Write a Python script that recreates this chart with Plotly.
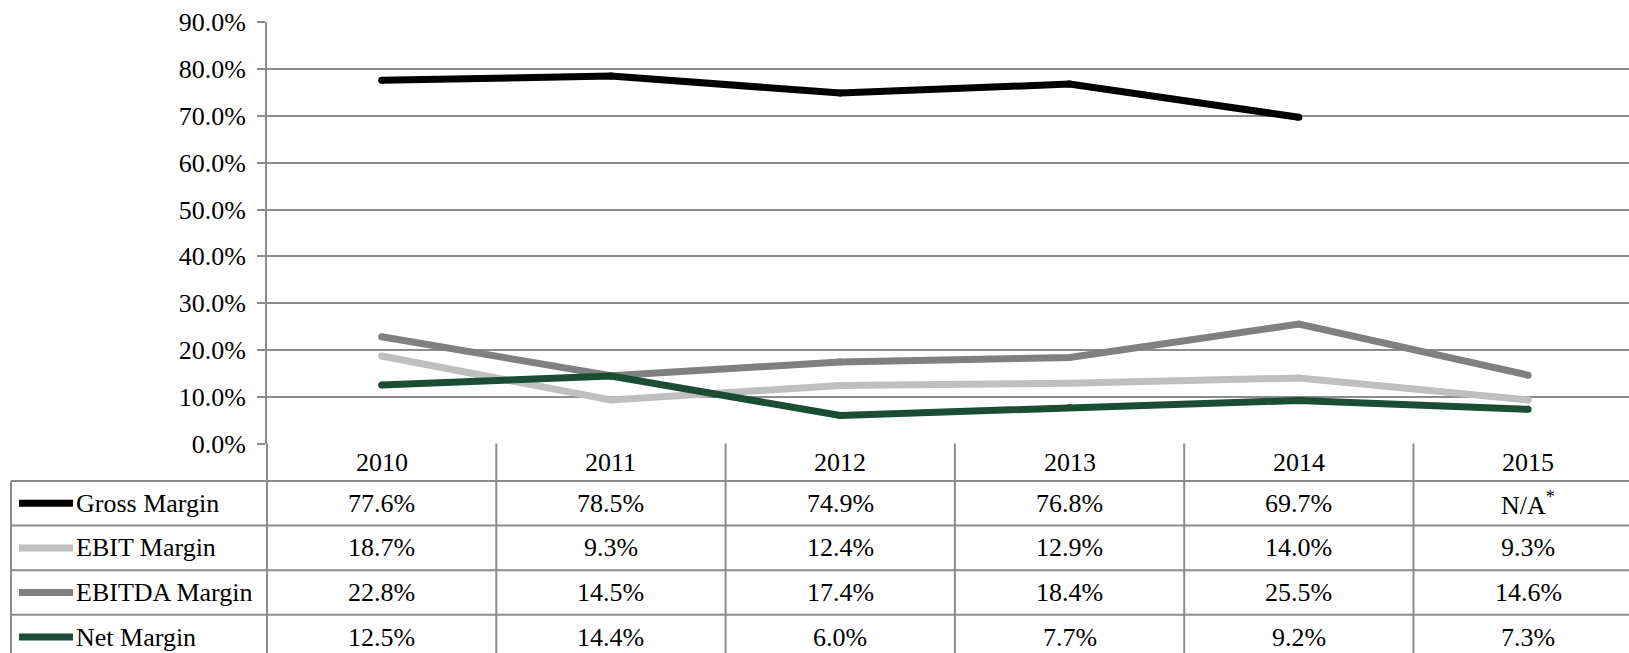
import plotly.graph_objects as go

# Data
years = ["2010", "2011", "2012", "2013", "2014", "2015"]
series_names = ["Gross Margin", "EBIT Margin", "EBITDA Margin", "Net Margin"]
gross_margin = [77.6, 78.5, 74.9, 76.8, 69.7, None]
ebit_margin = [18.7, 9.3, 12.4, 12.9, 14.0, 9.3]
ebitda_margin = [22.8, 14.5, 17.4, 18.4, 25.5, 14.6]
net_margin = [12.5, 14.4, 6.0, 7.7, 9.2, 7.3]
y_ticks = [0, 10, 20, 30, 40, 50, 60, 70, 80, 90]
y_tick_labels = [f"{v:.1f}%" for v in y_ticks]

series_values = [gross_margin, ebit_margin, ebitda_margin, net_margin]
series_colors = ["#000000", "#bfbfbf", "#808080", "#1b4d36"]

# Figure geometry (pixels)
W, H = 1629, 653
PLOT_LEFT = 267
PLOT_TOP = 22.3
PLOT_BOTTOM = 443.5
TABLE_LEFT = 11
HEADER_BOTTOM = 481
ROW_H = 44.6
GRID = "#8c8c8c"
FONT = "Liberation Serif"
FS = 26
COL_W = 229.3


def px(x):
    return x / W


def py(y):
    return 1 - y / H


x_right = -0.5 + (W - PLOT_LEFT) / COL_W

fig = go.Figure()

for name, vals, col in zip(series_names, series_values, series_colors):
    fig.add_trace(go.Scatter(
        x=list(range(len(years))), y=vals, name=name, mode="lines+markers",
        line=dict(color=col, width=7),
        marker=dict(color=col, size=7, line=dict(width=0)),
        connectgaps=False, showlegend=False, hoverinfo="skip",
    ))

shapes = []
annotations = []

# Table grid lines
row_tops = [HEADER_BOTTOM + i * ROW_H for i in range(len(series_names) + 1)]
for y in row_tops[:-1]:
    shapes.append(dict(type="line", xref="paper", yref="paper",
                       x0=px(TABLE_LEFT), x1=1, y0=py(y), y1=py(y),
                       line=dict(color=GRID, width=2)))
# left border of the table and the axis line continued down
shapes.append(dict(type="line", xref="paper", yref="paper",
                   x0=px(TABLE_LEFT), x1=px(TABLE_LEFT), y0=py(HEADER_BOTTOM), y1=0,
                   line=dict(color=GRID, width=2)))
shapes.append(dict(type="line", xref="paper", yref="paper",
                   x0=px(PLOT_LEFT), x1=px(PLOT_LEFT), y0=py(PLOT_BOTTOM), y1=0,
                   line=dict(color=GRID, width=2)))
# column separators
for i in range(len(years)):
    shapes.append(dict(type="line", xref="x", yref="paper",
                       x0=i + 0.5, x1=i + 0.5, y0=py(PLOT_BOTTOM), y1=0,
                       line=dict(color=GRID, width=2)))

# Header row: years
for i, yr in enumerate(years):
    annotations.append(dict(x=i, y=py((PLOT_BOTTOM + HEADER_BOTTOM) / 2),
                            xref="x", yref="paper", text=yr, showarrow=False,
                            xanchor="center", yanchor="middle",
                            font=dict(family=FONT, size=FS, color="#000000")))

# Body rows: legend key, name, values
for r, (name, vals, col) in enumerate(zip(series_names, series_values, series_colors)):
    yc = row_tops[r] + ROW_H / 2
    shapes.append(dict(type="line", xref="paper", yref="paper",
                       x0=px(19), x1=px(73), y0=py(yc), y1=py(yc),
                       line=dict(color=col, width=7)))
    annotations.append(dict(x=px(74), y=py(yc), xref="paper", yref="paper",
                            text=name, showarrow=False, xanchor="left", yanchor="middle",
                            font=dict(family=FONT, size=FS, color="#000000")))
    for i, v in enumerate(vals):
        txt = "N/A<sup>*</sup>" if v is None else f"{v:.1f}%"
        annotations.append(dict(x=i, y=py(yc), xref="x", yref="paper", text=txt,
                                showarrow=False, xanchor="center", yanchor="middle",
                                font=dict(family=FONT, size=FS, color="#000000")))

fig.update_layout(
    template="none",
    width=W, height=H, autosize=False,
    margin=dict(l=0, r=0, t=0, b=0, pad=0),
    paper_bgcolor="white", plot_bgcolor="white",
    shapes=shapes, annotations=annotations,
    xaxis=dict(domain=[px(PLOT_LEFT), 1], range=[-0.5, x_right], automargin=False,
               showgrid=False, zeroline=False, showticklabels=False,
               showline=False, ticks=""),
    yaxis=dict(domain=[py(PLOT_BOTTOM), py(PLOT_TOP)], range=[0, 90], automargin=False,
               tickvals=y_ticks, ticktext=y_tick_labels,
               showgrid=True, gridcolor=GRID, gridwidth=2,
               zeroline=False, showline=True, linecolor=GRID, linewidth=2,
               ticks="outside", ticklen=8, tickcolor=GRID, tickwidth=2,
               ticklabelstandoff=6,
               tickfont=dict(family=FONT, size=FS, color="#000000")),
)

fig.write_html("out.html")
